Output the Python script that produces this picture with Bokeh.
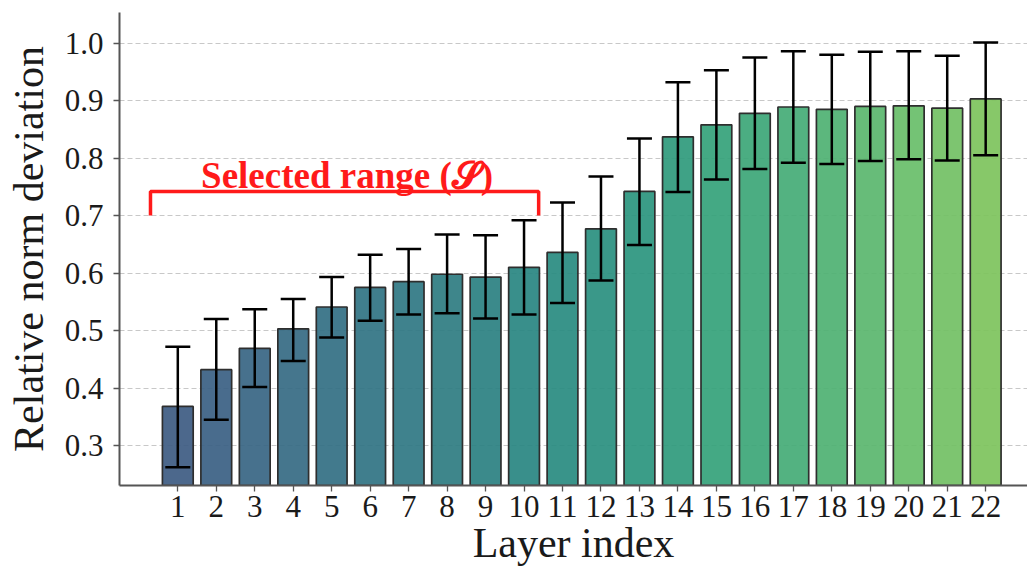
import colorsys
import numpy as np
from bokeh.plotting import figure
from bokeh.models import ColumnDataSource, Whisker, TeeHead, FixedTicker, Range1d, NumeralTickFormatter
from bokeh.core.properties import value
from bokeh.palettes import Viridis256
from bokeh.embed import file_html
from bokeh.resources import INLINE

layers = list(range(1, 23))
means = [0.368, 0.432, 0.469, 0.503, 0.541, 0.575, 0.585, 0.598, 0.593, 0.610, 0.636,
         0.677, 0.742, 0.837, 0.858, 0.878, 0.889, 0.885, 0.890, 0.891, 0.887, 0.903]
upper = [0.472, 0.520, 0.537, 0.555, 0.593, 0.632, 0.642, 0.667, 0.666, 0.692, 0.723,
         0.768, 0.834, 0.932, 0.953, 0.975, 0.986, 0.980, 0.985, 0.986, 0.978, 1.001]
lower = [0.262, 0.345, 0.402, 0.447, 0.488, 0.517, 0.528, 0.530, 0.521, 0.528, 0.548,
         0.587, 0.649, 0.741, 0.763, 0.781, 0.792, 0.790, 0.795, 0.798, 0.796, 0.805]
y_ticks = [0.3, 0.4, 0.5, 0.6, 0.7, 0.8, 0.9, 1.0]
x_title = "Layer index"
y_title = "Relative norm deviation"

# annotation: selected range bracket
bracket_left = 0.29
bracket_right = 10.38
bracket_low = 0.700
bracket_high = 0.742
label_text = "Selected range (\U0001D4E2)"
label_x = 5.4
label_y = 0.769


def desat(hexcol, f=0.8):
    r, g, b = (int(hexcol[i:i + 2], 16) / 255 for i in (1, 3, 5))
    h, l, s = colorsys.rgb_to_hls(r, g, b)
    r, g, b = colorsys.hls_to_rgb(h, l, s * f)
    return "#%02x%02x%02x" % tuple(int(round(c * 255)) for c in (r, g, b))


idx = np.linspace(74, 204, len(layers)).round().astype(int)
colors = [desat(Viridis256[i]) for i in idx]

src = ColumnDataSource(dict(x=layers, top=means, upper=upper, lower=lower, color=colors))

FONT = "Liberation Serif"

p = figure(width=1027, height=576, output_backend="svg", toolbar_location=None,
           x_range=Range1d(-0.5155, 23.087), y_range=Range1d(0.2304, 1.0534),
           min_border_left=119, min_border_right=0, min_border_top=12, min_border_bottom=91)
p.outline_line_color = None
p.background_fill_color = "white"

p.vbar(x="x", top="top", bottom=0, width=0.8, source=src, fill_color="color",
       fill_alpha=0.93, line_color="#2e2e2e", line_width=1.7)

w = Whisker(source=src, base="x", upper="upper", lower="lower", line_color="black", line_width=2.5,
            upper_head=TeeHead(size=25, line_width=2.5, line_color="black"),
            lower_head=TeeHead(size=25, line_width=2.5, line_color="black"), level="annotation")
p.add_layout(w)

p.line(x=[bracket_left, bracket_left, bracket_right, bracket_right],
       y=[bracket_low, bracket_high, bracket_high, bracket_low],
       line_color="#ff1a1a", line_width=3.5)
p.text(x=[label_x], y=[label_y], text=[label_text], text_font=value(FONT),
       text_font_style="bold", text_font_size="37px", text_color="#ff1a1a",
       text_align="center", text_baseline="alphabetic")

p.xaxis.ticker = FixedTicker(ticks=layers)
p.yaxis.ticker = FixedTicker(ticks=y_ticks)
p.yaxis.formatter = NumeralTickFormatter(format="0.0")
p.xgrid.visible = False
p.ygrid.ticker = FixedTicker(ticks=y_ticks)
p.ygrid.grid_line_color = "#c8c8c8"
p.ygrid.grid_line_dash = "5 3"
p.ygrid.grid_line_width = 1

for ax in (p.xaxis, p.yaxis):
    ax.axis_line_color = "#555555"
    ax.axis_line_width = 2
    ax.major_tick_line_color = "#555555"
    ax.major_tick_line_width = 1.3
    ax.major_tick_out = 6
    ax.major_tick_in = 0
    ax.minor_tick_line_color = None
    ax.major_label_text_font = FONT
    ax.major_label_text_font_size = "31px"
    ax.major_label_text_color = "#1a1a1a"
    ax.axis_label_text_font = FONT
    ax.axis_label_text_font_size = "42px"
    ax.axis_label_text_font_style = "normal"
    ax.axis_label_text_color = "#1a1a1a"

p.xaxis.axis_label = x_title
p.yaxis.axis_label = y_title
p.xaxis.major_label_standoff = 4
p.yaxis.major_label_standoff = 10
p.xaxis.axis_label_standoff = 0
p.yaxis.axis_label_standoff = 10

open("out.html", "w").write(file_html(p, INLINE))
